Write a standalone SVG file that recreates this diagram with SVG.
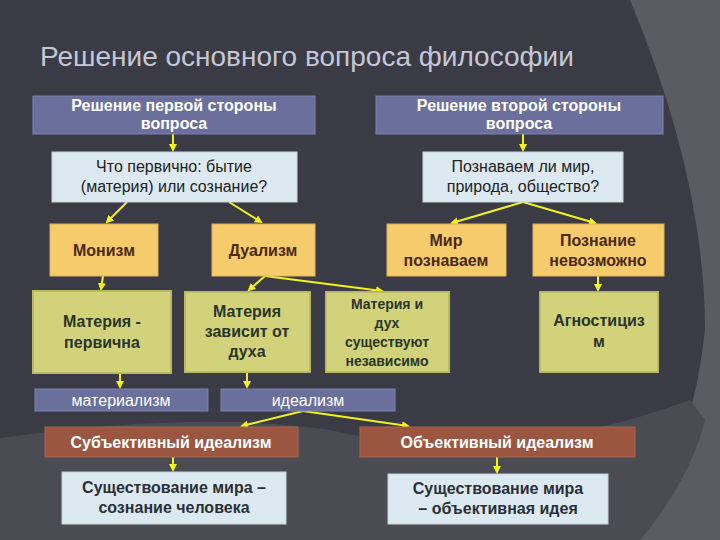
<svg xmlns="http://www.w3.org/2000/svg" width="720" height="540" viewBox="0 0 720 540">
<defs>
<marker id="ah" markerWidth="8" markerHeight="8" refX="6" refY="4" orient="auto" markerUnits="userSpaceOnUse"><path d="M0,0 L8,4 L0,8 z" fill="#f2f21e"/></marker>
<style>
.t{font-family:"Liberation Sans",Arial,sans-serif;font-size:16px;text-anchor:middle}
.b{font-weight:bold}
.blue{fill:#6b6f9c;stroke:#7d82ad;stroke-width:1}
.lb{fill:#dde9f0;stroke:#c5d3de;stroke-width:1}
.or{fill:#f5cb6c;stroke:#e0b457;stroke-width:1}
.gr{fill:#d2d27a;stroke:#b8b865;stroke-width:2}
.br{fill:#9b5641;stroke:#a9644f;stroke-width:1}
.c line{stroke:#f2f21e;stroke-width:2;marker-end:url(#ah)}
</style>
</defs>
<rect width="720" height="540" fill="#5a5b63"/>
<path d="M0,0 H630 Q705,180 705,330 Q690,470 620,540 H0 Z" fill="#3a3b45"/>
<path d="M0,438 Q200,410 330,430 Q500,470 690,400 L705,420 Q690,480 640,540 H0 Z" fill="#4a4b53"/>
<text x="40" y="66" style="font-family:'Liberation Sans',Arial,sans-serif;font-size:28px" fill="#c4c7d6">Решение основного вопроса философии</text>
<g class="c">
<line x1="173" y1="134" x2="173" y2="150"/>
<line x1="523" y1="134" x2="523" y2="150"/>
<line x1="127" y1="202" x2="107" y2="222"/>
<line x1="229" y1="202" x2="261" y2="222"/>
<line x1="523" y1="202" x2="452" y2="223"/>
<line x1="523" y1="202" x2="595" y2="223"/>
<line x1="103" y1="276" x2="101" y2="289"/>
<line x1="265" y1="276" x2="249" y2="290"/>
<line x1="265" y1="276" x2="382" y2="291"/>
<line x1="598" y1="276" x2="598" y2="290"/>
<line x1="120" y1="373" x2="120" y2="387"/>
<line x1="247" y1="372" x2="247" y2="387"/>
<line x1="303" y1="411" x2="242" y2="426"/>
<line x1="303" y1="411" x2="408" y2="426"/>
<line x1="173" y1="457" x2="173" y2="470"/>
<line x1="497" y1="457" x2="497" y2="472"/>
</g>
<g id="n1"><rect class="blue" x="33" y="96" width="282" height="38"/><text class="t b" fill="#fff" x="174" y="111">Решение первой стороны<tspan x="174" dy="18">вопроса</tspan></text></g>
<g id="n2"><rect class="blue" x="376" y="96" width="287" height="38"/><text class="t b" fill="#fff" x="519" y="111">Решение второй стороны<tspan x="519" dy="18">вопроса</tspan></text></g>
<g id="q1"><rect class="lb" x="52" y="152" width="245" height="50"/><text class="t" fill="#222" x="174" y="172">Что первично: бытие<tspan x="174" dy="20">(материя) или сознание?</tspan></text></g>
<g id="q2"><rect class="lb" x="423" y="152" width="200" height="50"/><text class="t" fill="#222" x="523" y="172">Познаваем ли мир,<tspan x="523" dy="20">природа, общество?</tspan></text></g>
<g id="monism"><rect class="or" x="50" y="224" width="108" height="52"/><text class="t b" fill="#4a2a12" x="104" y="256">Монизм</text></g>
<g id="dualism"><rect class="or" x="212" y="224" width="103" height="52"/><text class="t b" fill="#4a2a12" x="263" y="256">Дуализм</text></g>
<g id="mir"><rect class="or" x="387" y="224" width="119" height="52"/><text class="t b" fill="#4a2a12" x="446" y="246">Мир<tspan x="446" dy="20">познаваем</tspan></text></g>
<g id="pozn"><rect class="or" x="533" y="224" width="131" height="52"/><text class="t b" fill="#4a2a12" x="598" y="246">Познание<tspan x="598" dy="20">невозможно</tspan></text></g>
<g id="m1"><rect class="gr" x="33" y="291" width="138" height="82" stroke="#e6e6b0"/><text class="t b" fill="#2a3528" x="102" y="327">Материя -<tspan x="102" dy="21">первична</tspan></text></g>
<g id="m2"><rect class="gr" x="185" y="292" width="125" height="80"/><text class="t b" fill="#2a3528" x="247" y="317">Материя<tspan x="247" dy="20">зависит от</tspan><tspan x="247" dy="20">духа</tspan></text></g>
<g id="m3"><rect class="gr" x="326" y="292" width="123" height="80"/><text class="t b" fill="#2a3528" x="387" y="309" style="font-size:14px">Материя и<tspan x="387" dy="19">дух</tspan><tspan x="387" dy="19">существуют</tspan><tspan x="387" dy="19">независимо</tspan></text></g>
<g id="agn"><rect class="gr" x="540" y="292" width="118" height="80"/><text class="t b" fill="#2a3528" x="599" y="326">Агностициз<tspan x="599" dy="21">м</tspan></text></g>
<g id="mat"><rect class="blue" x="35" y="389" width="173" height="22"/><text class="t" fill="#fff" x="121" y="406">материализм</text></g>
<g id="ide"><rect class="blue" x="221" y="389" width="174" height="22"/><text class="t" fill="#fff" x="308" y="406">идеализм</text></g>
<g id="sub"><rect class="br" x="45" y="427" width="253" height="30"/><text class="t b" fill="#fff" x="171" y="448">Субъективный идеализм</text></g>
<g id="obj"><rect class="br" x="360" y="427" width="275" height="30"/><text class="t b" fill="#fff" x="497" y="448">Объективный идеализм</text></g>
<g id="s1"><rect class="lb" x="62" y="472" width="224" height="52"/><text class="t b" fill="#2a2f38" x="174" y="493">Существование мира –<tspan x="174" dy="20">сознание человека</tspan></text></g>
<g id="s2"><rect class="lb" x="388" y="474" width="220" height="50"/><text class="t b" fill="#2a2f38" x="498" y="494">Существование мира<tspan x="498" dy="20">– объективная идея</tspan></text></g>
</svg>
